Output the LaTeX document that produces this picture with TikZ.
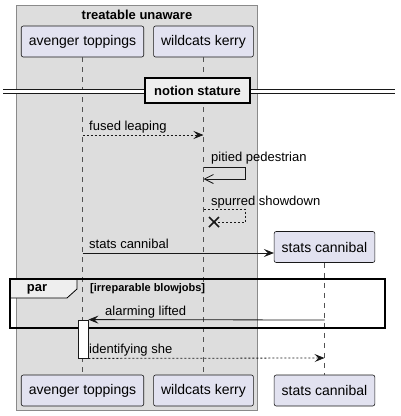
\documentclass[tikz,border=0pt]{standalone}
\usepackage{fontspec}
\setmainfont{Liberation Sans}
\usetikzlibrary{arrows.meta,positioning}
\definecolor{partfill}{HTML}{E2E2F0}
\definecolor{linedark}{HTML}{181818}
\definecolor{boxfill}{HTML}{DDDDDD}
\definecolor{boxline}{HTML}{8A8A8A}
\definecolor{tabfill}{HTML}{EEEEEE}

\begin{document}
\begin{tikzpicture}[x=1pt,y=-1pt,
    part/.style={rectangle,draw=linedark,fill=partfill,rounded corners=2pt,line width=0.6pt,minimum height=31pt,inner xsep=7.5pt,font=\fontsize{14}{16}\selectfont},
    msg/.style={anchor=base west,inner sep=0pt,font=\fontsize{13}{15}\selectfont},
    life/.style={draw=linedark!75,line width=0.6pt,dash pattern=on 5pt off 5pt},
    sync/.style={draw=linedark,line width=0.8pt,-{Stealth[length=10pt,width=8pt,inset=4pt]}},
    reply/.style={sync,dash pattern=on 2pt off 2pt},
    openarr/.style={draw=linedark,line width=0.8pt,-{Straight Barb[length=9pt,width=9pt]}},
    frame/.style={draw=black,line width=1.5pt}]
    \useasboundingbox (0,0) rectangle (401,416);

    % Box
    \draw[fill=boxfill,draw=boxline,line width=0.8pt] (16,5) rectangle (257,410);
    \node[font=\fontsize{13}{15}\selectfont\bfseries] (boxtitle) at (137,15) {treatable unaware};

    % Participants
    \node[part] (avtop) at (82.5,41.5) {avenger toppings};
    \node[part] (wktop) at (203.5,41.5) {wildcats kerry};
    \node[part] (sctop) at (324.5,247) {stats cannibal};
    \node[part] (avbot) at (82.5,390.5) {avenger toppings};
    \node[part] (wkbot) at (203.5,390.5) {wildcats kerry};
    \node[part] (scbot) at (324.5,390.5) {stats cannibal};

    % Lifelines
    \draw[life] (avtop) -- (avbot);
    \draw[life] (wktop) -- (wkbot);
    \draw[life] (sctop) -- (scbot);

    % Divider
    \fill[white] (3,89) rectangle (395,93);
    \draw[linedark,line width=0.8pt] (3,89) -- (395,89) (3,93) -- (395,93);
    \node[frame,fill=tabfill,minimum width=105pt,minimum height=25pt,inner sep=0pt,font=\fontsize{13}{15}\selectfont\bfseries] (divider) at (197.5,90.5) {notion stature};

    % Messages
    \draw[reply] (avtop |- 0,135) -- (wktop |- 0,135);
    \node[msg] (m1) at (89,130) {fused leaping};
    \draw[openarr] (wktop |- 0,167) -| (245,179) -- (wktop |- 0,179);
    \node[msg] (m2) at (211,161) {pitied pedestrian};
    \coordinate (lost) at (214,222);
    \draw[linedark,line width=0.8pt,dash pattern=on 2pt off 2pt] (wktop |- 0,209) -| (245,222) -- (lost);
    \draw[linedark,line width=1.6pt] ([shift={(-5,-5)}]lost) -- ([shift={(5,5)}]lost) ([shift={(-5,5)}]lost) -- ([shift={(5,-5)}]lost);
    \node[msg] (m3) at (211,205) {spurred showdown};
    \draw[sync] (avtop |- 0,253) -- (sctop.west |- 0,253);
    \node[msg] (m4) at (89,248) {stats cannibal};

    % Par frame
    \draw[fill=tabfill,draw=black,line width=0.8pt] (10,279) -- (77,279) -- (77,289) -- (67,298) -- (10,298) -- cycle;
    \draw[frame] (10,279) rectangle (385,328);
    \node[font=\fontsize{13}{15}\selectfont\bfseries] (partab) at (37,289) {par};
    \node[anchor=west,inner sep=0pt,font=\fontsize{11}{13}\selectfont\bfseries] (parcond) at (90,289) {[irreparable blowjobs]};

    % Activation
    \node[rectangle,draw=linedark,fill=white,line width=0.8pt,minimum width=10pt,minimum height=38pt,inner sep=0pt] (act) at (83,339) {};
    \draw[sync] (sctop |- 0,320) -- (act.north east);
    \node[msg] (m5) at (105,315) {alarming lifted};
    \draw[reply] (act.south east) -- (sctop |- 0,358);
    \node[msg] (m6) at (89,353) {identifying she};
\end{tikzpicture}
\end{document}
